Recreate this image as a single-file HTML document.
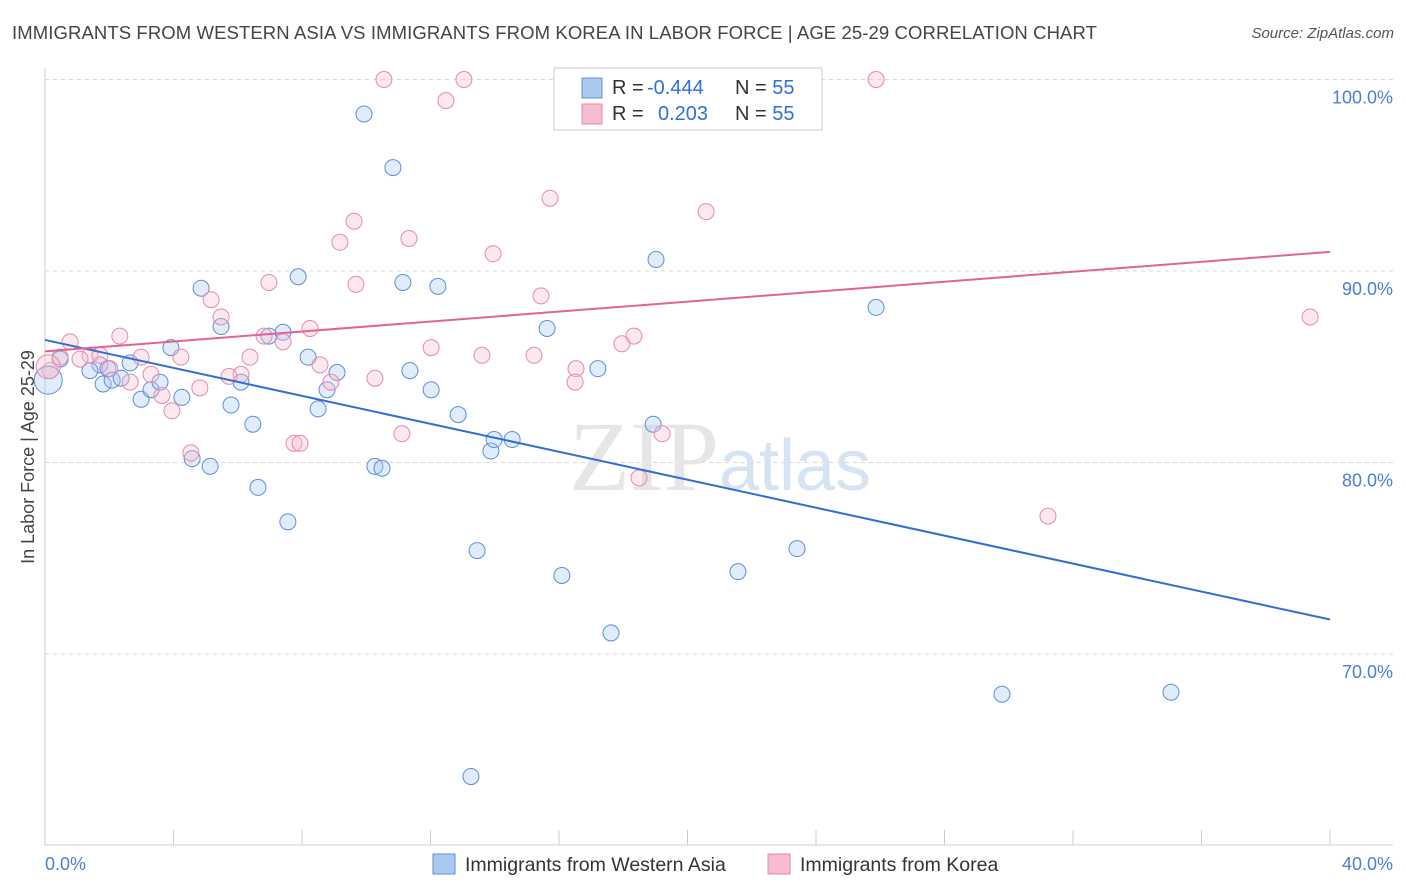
<!DOCTYPE html>
<html><head><meta charset="utf-8">
<style>
body{margin:0;background:#fff;font-family:"Liberation Sans",sans-serif;}
#wrap{position:relative;width:1406px;height:892px;overflow:hidden}
.title{position:absolute;left:12px;top:22px;font-size:18.5px;color:#444;letter-spacing:0.1px}
.source{position:absolute;right:12px;top:25px;font-size:15px;color:#555;font-style:italic}
</style></head><body>
<div id="wrap">
<div class="title">IMMIGRANTS FROM WESTERN ASIA VS IMMIGRANTS FROM KOREA IN LABOR FORCE | AGE 25-29 CORRELATION CHART</div>
<div class="source">Source: ZipAtlas.com</div>
<svg id="chart" width="1406" height="892" style="position:absolute;left:0;top:0"></svg>
</div>
<script>
const blueX=[1.71,1.96,1.81,2.09,2.37,2.65,2.99,3.30,3.58,3.92,4.26,4.58,4.86,5.14,5.48,5.79,6.10,6.47,6.63,6.97,7.41,7.56,7.88,8.19,8.50,8.78,9.09,9.93,10.27,10.49,10.83,11.14,11.36,12.02,12.23,12.86,13.45,13.26,13.88,13.98,14.54,15.63,16.09,17.21,17.62,18.93,19.02,21.57,23.41,25.87,29.79,35.05,0.47,1.40];
const blueY=[85.1,84.9,84.1,84.3,84.4,85.2,83.3,83.8,84.2,86.0,83.4,80.2,89.1,79.8,87.1,83.0,84.2,82.0,78.7,86.6,86.8,76.9,89.7,85.5,82.8,83.8,84.7,98.2,79.8,79.7,95.4,89.4,84.8,83.8,89.2,82.5,75.4,63.6,80.6,81.2,81.2,87.0,74.1,84.9,71.1,82.0,90.6,74.3,75.5,88.1,67.9,68.0,85.4,84.8];
const pinkX=[10.55,13.04,25.87,12.48,15.72,20.58,9.62,11.33,9.18,13.95,6.97,9.68,15.44,5.17,5.48,2.33,0.78,6.82,7.41,8.25,18.33,17.96,12.02,13.60,15.22,4.23,2.99,6.38,1.40,8.56,16.53,2.02,2.65,3.30,6.10,5.73,10.27,8.90,16.50,4.82,3.64,3.95,11.11,7.75,7.94,19.21,4.54,18.49,31.22,39.38,0.47,1.09,1.71,0.16];
const pinkY=[100.0,100.0,100.0,98.9,93.8,93.1,92.6,91.7,91.5,90.9,89.4,89.3,88.7,88.5,87.6,86.6,86.3,86.6,86.3,87.0,86.6,86.2,86.0,85.6,85.6,85.5,85.5,85.5,85.6,85.1,84.9,84.9,84.2,84.6,84.6,84.5,84.4,84.2,84.2,83.9,83.5,82.7,81.5,81.0,81.0,81.5,80.5,79.2,77.2,87.6,85.5,85.4,85.6,84.8];
const bigX=[0.1];
const bigBlueY=[84.3];
const bigPinkY=[85.0];
const trendBlue=[86.4,71.8];
const trendPink=[85.8,91.0];
const yTicks=[100,90,80,70];
const yTickLabels=["100.0%","90.0%","80.0%","70.0%"];
const xTicks=[0,4,8,12,16,20,24,28,32,36,40];

const NS="http://www.w3.org/2000/svg";
const svg=document.getElementById('chart');
const X0=45,X1=1330,xs=v=>X0+(v/40)*(X1-X0);
const ys=v=>79.5+(100-v)*19.15;
function mk(t,a,p){const e=document.createElementNS(NS,t);for(const k in a)e.setAttribute(k,a[k]);(p||svg).appendChild(e);return e;}

yTicks.forEach((v,i)=>{
  const g=mk('line',{x1:X0,x2:1393,y1:ys(v),y2:ys(v),stroke:'#d8d8d8','stroke-dasharray':'4,4','stroke-width':1});
  
  
  const t=mk('text',{x:1393,y:ys(v)+24,'text-anchor':'end','font-size':18,fill:'#4a7fd4'});
  t.textContent=yTickLabels[i];
  
  
});
const ax=mk('line',{x1:X0,x2:X0,y1:68,y2:845,stroke:'#ccc'});


const bx=mk('line',{x1:X0,x2:1393,y1:845,y2:845,stroke:'#ccc'});


xTicks.forEach(v=>{
  const l=mk('line',{x1:xs(v),x2:xs(v),y1:830,y2:845,stroke:'#ccc'});
  
  
});
const xl0=mk('text',{x:45,y:870,'font-size':18,fill:'#4a7fd4'});xl0.textContent='0.0%';


const xl1=mk('text',{x:1393,y:870,'text-anchor':'end','font-size':18,fill:'#4a7fd4'});xl1.textContent='40.0%';


const yt=mk('text',{x:34,y:457,'text-anchor':'middle','font-size':18,fill:'#444',transform:'rotate(-90 34 457)'});
yt.textContent='In Labor Force | Age 25-29';


const wm=mk('text',{x:720,y:490,'text-anchor':'middle','font-size':100,fill:'#e6e6e6','font-family':'Liberation Serif, serif'});
wm.innerHTML='ZIP<tspan fill="#d5e3f3" font-family="Liberation Sans, sans-serif" font-size="72">atlas</tspan>';



function pts(X,Y,fill,stroke,name,r){
  X.forEach((x,i)=>{
    const c=mk('circle',{cx:xs(x),cy:ys(Y[i]),r:r,fill:fill,'fill-opacity':0.35,stroke:stroke,'stroke-width':1});
    
    
  });
}
pts(blueX,blueY,'#aac8f0','#5a8fd8','point-western-asia',8);
pts(pinkX,pinkY,'#f6bccf','#e889a8','point-korea',8);
pts(bigX,bigBlueY,'#aac8f0','#5a8fd8','point-western-asia-large',14);
pts(bigX,bigPinkY,'#f6bccf','#e889a8','point-korea-large',12);

const tb=mk('line',{x1:xs(0),y1:ys(trendBlue[0]),x2:xs(40),y2:ys(trendBlue[1]),stroke:'#2f6fd6','stroke-width':2});


const tp=mk('line',{x1:xs(0),y1:ys(trendPink[0]),x2:xs(40),y2:ys(trendPink[1]),stroke:'#e2658f','stroke-width':2});



const lg=mk('rect',{x:554,y:68,width:268,height:62,fill:'#fff',stroke:'#ccc'});


[['#aac8f0','#5a8fd8','-0.444',95],['#f6bccf','#e889a8','0.203',121]].forEach((d,i)=>{
  const s=mk('rect',{x:582,y:d[3]-17,width:20,height:20,fill:d[0],stroke:d[1]});
  
  
  const t=mk('text',{x:612,y:d[3]-1,'font-size':20,fill:'#333'});
  t.innerHTML='R = <tspan fill="#2f6fd6" x="'+(i?658:647)+'">'+d[2]+'</tspan><tspan x="735">N = </tspan><tspan fill="#2f6fd6">55</tspan>';
  
  
});
[[433,'#aac8f0','#5a8fd8','Immigrants from Western Asia','legend-western-asia'],[768,'#f6bccf','#e889a8','Immigrants from Korea','legend-korea']].forEach(d=>{
  const s=mk('rect',{x:d[0],y:854,width:22,height:20,fill:d[1],stroke:d[2]});
  
  
  const t=mk('text',{x:d[0]+32,y:871,'font-size':19.5,fill:'#333'});
  t.textContent=d[3];
  
  
});
</script>
</body></html>
